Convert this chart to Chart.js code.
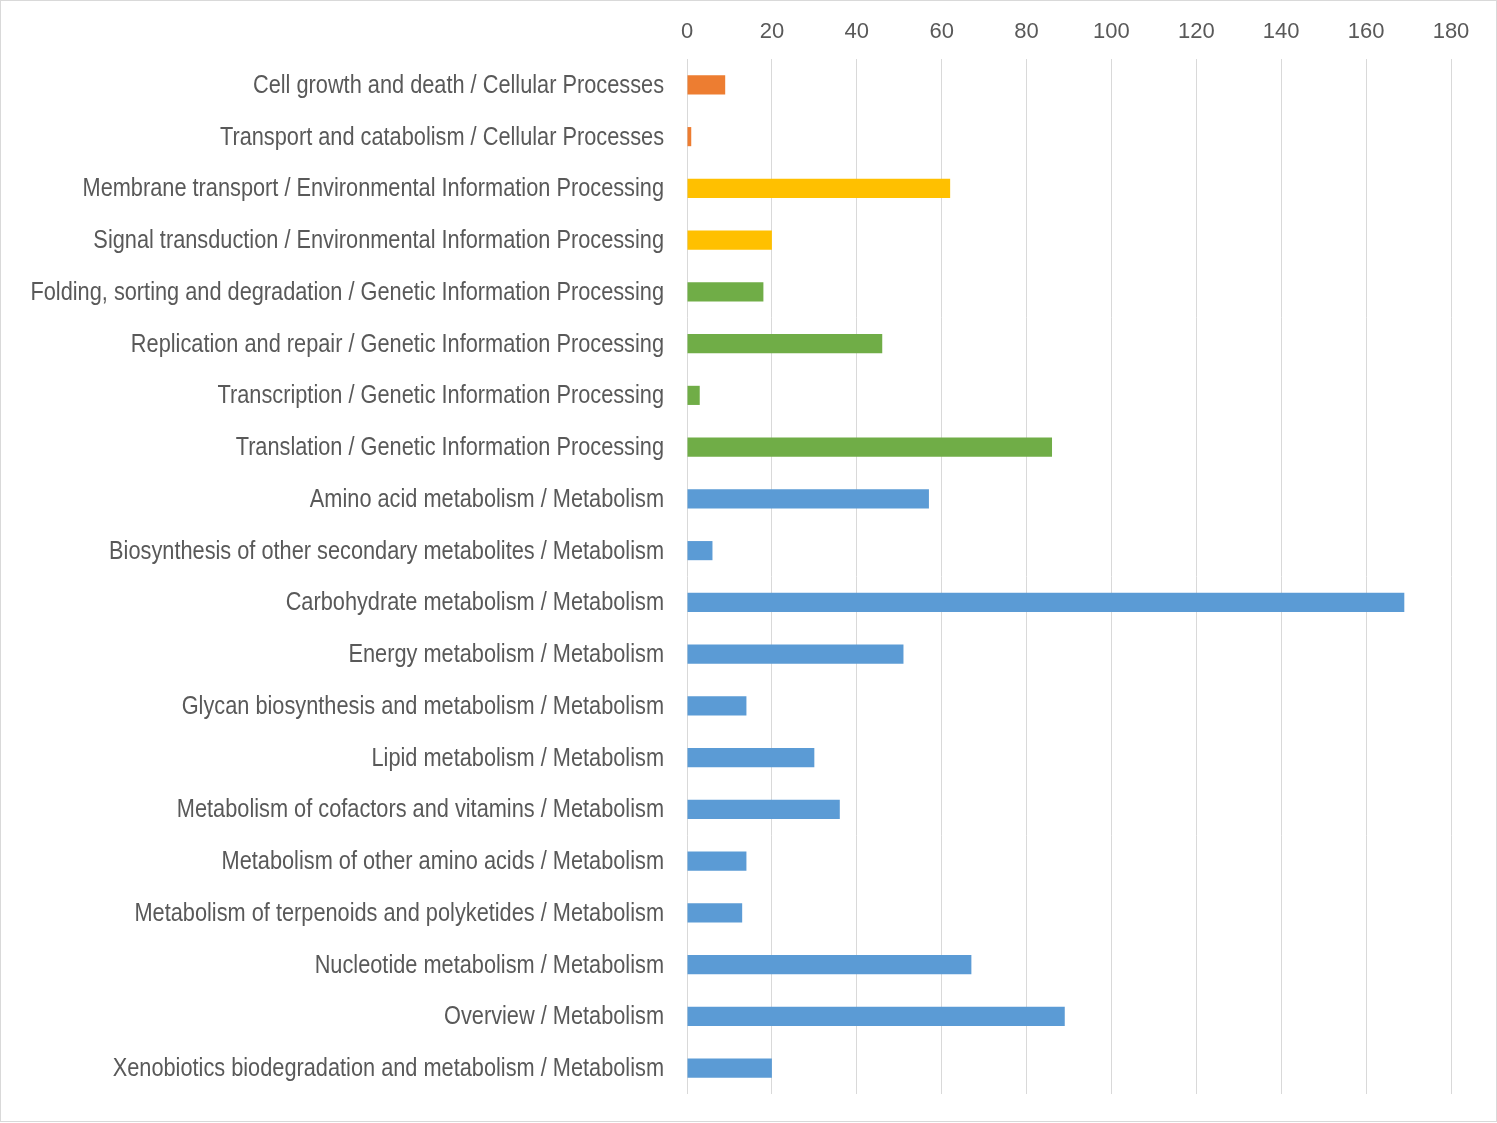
<!DOCTYPE html>
<html>
<head>
<meta charset="utf-8">
<script src="https://cdn.jsdelivr.net/npm/chart.js@4/dist/chart.umd.min.js"></script>
<style>
  body { margin: 0; background: #fff; }
  #wrap { width: 1497px; height: 1123px; position: relative; }
</style>
</head>
<body>
<div id="wrap"><canvas id="keggChart"></canvas></div>
<script>
// --------------------- Data -------------------
const categories = [
    'Cell growth and death / Cellular Processes',
    'Transport and catabolism / Cellular Processes',
    'Membrane transport / Environmental Information Processing',
    'Signal transduction / Environmental Information Processing',
    'Folding, sorting and degradation / Genetic Information Processing',
    'Replication and repair / Genetic Information Processing',
    'Transcription / Genetic Information Processing',
    'Translation / Genetic Information Processing',
    'Amino acid metabolism / Metabolism',
    'Biosynthesis of other secondary metabolites / Metabolism',
    'Carbohydrate metabolism / Metabolism',
    'Energy metabolism / Metabolism',
    'Glycan biosynthesis and metabolism / Metabolism',
    'Lipid metabolism / Metabolism',
    'Metabolism of cofactors and vitamins / Metabolism',
    'Metabolism of other amino acids / Metabolism',
    'Metabolism of terpenoids and polyketides / Metabolism',
    'Nucleotide metabolism / Metabolism',
    'Overview / Metabolism',
    'Xenobiotics biodegradation and metabolism / Metabolism'
];
const geneCounts = [9, 1, 62, 20, 18, 46, 3, 86, 57, 6, 169, 51, 14, 30, 36, 14, 13, 67, 89, 20];
const groups = ['cell', 'cell', 'env', 'env', 'gen', 'gen', 'gen', 'gen',
    'met', 'met', 'met', 'met', 'met', 'met', 'met', 'met', 'met', 'met', 'met', 'met'];
const xTicks = [0, 20, 40, 60, 80, 100, 120, 140, 160, 180];

const groupColors = { cell: '#ED7D31', env: '#FFC000', gen: '#70AD47', met: '#5B9BD5' };
const barColors = groups.map(g => groupColors[g]);

const labelFont = "'Liberation Sans', Arial, sans-serif";

// white background + light frame around the whole picture
const framePlugin = {
    id: 'frame',
    beforeDraw(chart) {
        const ctx = chart.ctx;
        ctx.save();
        ctx.fillStyle = '#fff';
        ctx.fillRect(0, 0, chart.width, chart.height);
        ctx.strokeStyle = '#d9d9d9';
        ctx.lineWidth = 1;
        ctx.strokeRect(0.5, 0.5, chart.width - 1, chart.height - 2);
        ctx.restore();
    }
};

// category labels, drawn a bit condensed (no narrow font available)
const narrowLabels = {
    id: 'narrowLabels',
    afterDraw(chart) {
        const ctx = chart.ctx;
        const yScale = chart.scales.y;
        const right = chart.chartArea.left - 23;
        ctx.save();
        ctx.fillStyle = '#595959';
        ctx.font = '25px ' + labelFont;
        ctx.textAlign = 'right';
        ctx.textBaseline = 'middle';
        chart.data.labels.forEach((label, i) => {
            ctx.save();
            ctx.translate(right, yScale.getPixelForTick(i) + 1);
            ctx.scale(0.87, 1);
            ctx.fillText(label, 0, 0);
            ctx.restore();
        });
        ctx.restore();
    }
};

// --------------------- Chart -------------------
const ctx = document.getElementById('keggChart').getContext('2d');
const keggChart = new Chart(ctx, {
    type: 'bar',
    data: {
        labels: categories,
        datasets: [{
            data: geneCounts,
            backgroundColor: barColors,
            borderWidth: 0,
            barPercentage: 0.74,
            categoryPercentage: 0.5
        }]
    },
    options: {
        indexAxis: 'y',
        responsive: true,
        maintainAspectRatio: false,
        animation: false,
        layout: { padding: { left: 0, right: 46, top: 0, bottom: 29 } },
        plugins: {
            legend: { display: false },
            tooltip: { enabled: false }
        },
        scales: {
            x: {
                position: 'top',
                min: 0,
                max: 180,
                afterBuildTicks(scale) {
                    scale.ticks = xTicks.map(v => ({ value: v }));
                },
                afterFit(scale) { scale.height = 59; },
                grid: { color: '#d9d9d9', drawTicks: false },
                border: { display: false },
                ticks: {
                    padding: 14,
                    color: '#595959',
                    font: { family: labelFont, size: 22 }
                }
            },
            y: {
                afterFit(scale) { scale.width = 687; },
                grid: { display: false },
                border: { display: false },
                ticks: { display: false }
            }
        }
    },
    plugins: [framePlugin, narrowLabels]
});
</script>
</body>
</html>
